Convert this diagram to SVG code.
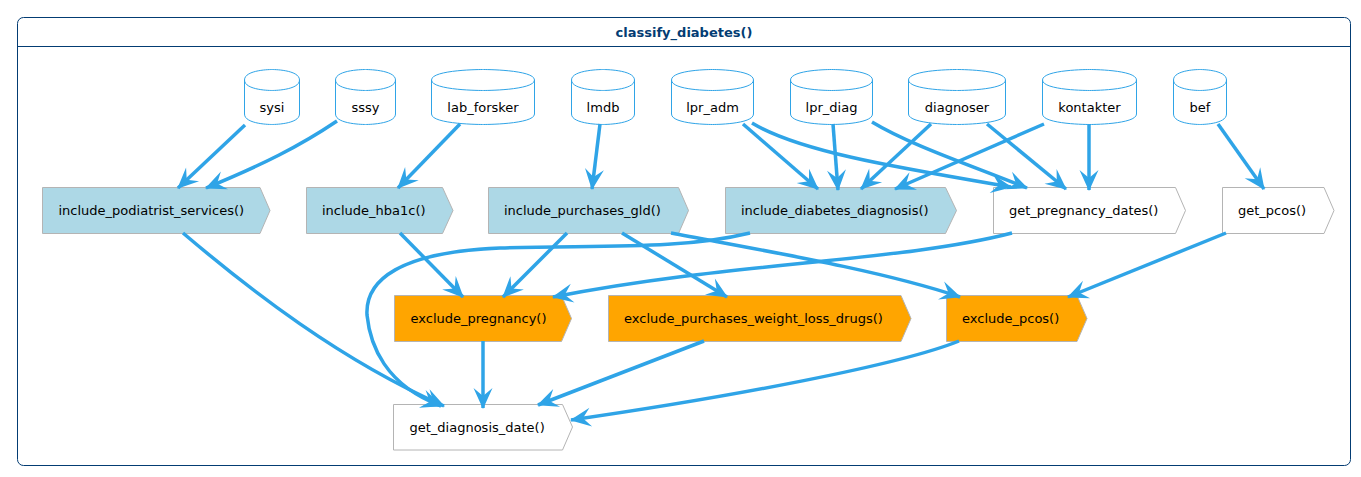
<svg xmlns="http://www.w3.org/2000/svg" width="1361" height="477" viewBox="0 0 1361 477">
<style>
text{font-family:"DejaVu Sans",sans-serif;font-size:13px;fill:#000}
.t{font-weight:bold;fill:#033C73;text-anchor:middle}
.c{text-anchor:middle}
.db{fill:none;stroke:#2FA4E7;stroke-width:1}
.p{stroke:#B4B4B4;stroke-width:1}
.b{fill:#ADD8E6}.o{fill:#FFA500}.w{fill:#fff}
#edges path{fill:none;stroke:#2FA4E7;stroke-width:3.5;marker-end:url(#a)}
</style>
<defs>
<marker id="a" markerUnits="userSpaceOnUse" markerWidth="24" markerHeight="24" refX="20" refY="12" orient="auto" overflow="visible"><path d="M21,12 L0,2.5 L8,12 L0,21.5 Z" fill="#2FA4E7"/></marker>
</defs>
<rect width="1361" height="477" fill="#fff"/>
<g id="frame">
<rect x="17.5" y="17.5" width="1333" height="448" rx="6" fill="none" stroke="#033C73" stroke-width="1"/>
<path d="M17.5,46.5H1350.5" stroke="#033C73" stroke-width="1"/>
<text class="t" x="684" y="36.5">classify_diabetes()</text>
</g>
<g id="sysi"><path class="db" d="M244.5,80C244.5,69.5 272,69.5 272,69.5C272,69.5 299.5,69.5 299.5,80V114C299.5,124.5 272,124.5 272,124.5C272,124.5 244.5,124.5 244.5,114ZM244.5,80C244.5,90.5 272,90.5 272,90.5C272,90.5 299.5,90.5 299.5,80"/><text class="c" x="272" y="112">sysi</text></g>
<g id="sssy"><path class="db" d="M335.5,80C335.5,69.5 365.5,69.5 365.5,69.5C365.5,69.5 395.5,69.5 395.5,80V114C395.5,124.5 365.5,124.5 365.5,124.5C365.5,124.5 335.5,124.5 335.5,114ZM335.5,80C335.5,90.5 365.5,90.5 365.5,90.5C365.5,90.5 395.5,90.5 395.5,80"/><text class="c" x="365.5" y="112">sssy</text></g>
<g id="lab_forsker"><path class="db" d="M431.5,80C431.5,69.5 483,69.5 483,69.5C483,69.5 534.5,69.5 534.5,80V114C534.5,124.5 483,124.5 483,124.5C483,124.5 431.5,124.5 431.5,114ZM431.5,80C431.5,90.5 483,90.5 483,90.5C483,90.5 534.5,90.5 534.5,80"/><text class="c" x="483" y="112">lab_forsker</text></g>
<g id="lmdb"><path class="db" d="M571.5,80C571.5,69.5 603,69.5 603,69.5C603,69.5 634.5,69.5 634.5,80V114C634.5,124.5 603,124.5 603,124.5C603,124.5 571.5,124.5 571.5,114ZM571.5,80C571.5,90.5 603,90.5 603,90.5C603,90.5 634.5,90.5 634.5,80"/><text class="c" x="603" y="112">lmdb</text></g>
<g id="lpr_adm"><path class="db" d="M671.5,80C671.5,69.5 712.5,69.5 712.5,69.5C712.5,69.5 753.5,69.5 753.5,80V114C753.5,124.5 712.5,124.5 712.5,124.5C712.5,124.5 671.5,124.5 671.5,114ZM671.5,80C671.5,90.5 712.5,90.5 712.5,90.5C712.5,90.5 753.5,90.5 753.5,80"/><text class="c" x="712.5" y="112">lpr_adm</text></g>
<g id="lpr_diag"><path class="db" d="M790.5,80C790.5,69.5 831.5,69.5 831.5,69.5C831.5,69.5 872.5,69.5 872.5,80V114C872.5,124.5 831.5,124.5 831.5,124.5C831.5,124.5 790.5,124.5 790.5,114ZM790.5,80C790.5,90.5 831.5,90.5 831.5,90.5C831.5,90.5 872.5,90.5 872.5,80"/><text class="c" x="831.5" y="112">lpr_diag</text></g>
<g id="diagnoser"><path class="db" d="M908.5,80C908.5,69.5 957,69.5 957,69.5C957,69.5 1005.5,69.5 1005.5,80V114C1005.5,124.5 957,124.5 957,124.5C957,124.5 908.5,124.5 908.5,114ZM908.5,80C908.5,90.5 957,90.5 957,90.5C957,90.5 1005.5,90.5 1005.5,80"/><text class="c" x="957" y="112">diagnoser</text></g>
<g id="kontakter"><path class="db" d="M1042.5,80C1042.5,69.5 1089.5,69.5 1089.5,69.5C1089.5,69.5 1136.5,69.5 1136.5,80V114C1136.5,124.5 1089.5,124.5 1089.5,124.5C1089.5,124.5 1042.5,124.5 1042.5,114ZM1042.5,80C1042.5,90.5 1089.5,90.5 1089.5,90.5C1089.5,90.5 1136.5,90.5 1136.5,80"/><text class="c" x="1089.5" y="112">kontakter</text></g>
<g id="bef"><path class="db" d="M1173.5,80C1173.5,69.5 1200,69.5 1200,69.5C1200,69.5 1226.5,69.5 1226.5,80V114C1226.5,124.5 1200,124.5 1200,124.5C1200,124.5 1173.5,124.5 1173.5,114ZM1173.5,80C1173.5,90.5 1200,90.5 1200,90.5C1200,90.5 1226.5,90.5 1226.5,80"/><text class="c" x="1200" y="112">bef</text></g>
<g id="include_podiatrist_services"><polygon class="p b" points="42.5,187.5 260,187.5 270,210.5 260,233.5 42.5,233.5"/><text x="58.5" y="215">include_podiatrist_services()</text></g>
<g id="include_hba1c"><polygon class="p b" points="306.5,187.5 442.5,187.5 453,210.5 442.5,233.5 306.5,233.5"/><text x="322" y="215">include_hba1c()</text></g>
<g id="include_purchases_gld"><polygon class="p b" points="488.5,187.5 678.5,187.5 688.5,210.5 678.5,233.5 488.5,233.5"/><text x="504" y="215">include_purchases_gld()</text></g>
<g id="include_diabetes_diagnosis"><polygon class="p b" points="725.5,187.5 945.5,187.5 956.5,210.5 945.5,233.5 725.5,233.5"/><text x="741" y="215">include_diabetes_diagnosis()</text></g>
<g id="get_pregnancy_dates"><polygon class="p w" points="993.5,187.5 1175.5,187.5 1185.5,210.5 1175.5,233.5 993.5,233.5"/><text x="1009" y="215">get_pregnancy_dates()</text></g>
<g id="get_pcos"><polygon class="p w" points="1222.5,187.5 1324,187.5 1334,210.5 1324,233.5 1222.5,233.5"/><text x="1238" y="215">get_pcos()</text></g>
<g id="exclude_pregnancy"><polygon class="p o" points="394.5,295.5 561.5,295.5 571.5,318.5 561.5,341.5 394.5,341.5"/><text x="410.5" y="323">exclude_pregnancy()</text></g>
<g id="exclude_purchases_weight_loss_drugs"><polygon class="p o" points="608.5,295.5 901,295.5 911,318.5 901,341.5 608.5,341.5"/><text x="624" y="323">exclude_purchases_weight_loss_drugs()</text></g>
<g id="exclude_pcos"><polygon class="p o" points="946.5,295.5 1077,295.5 1087,318.5 1077,341.5 946.5,341.5"/><text x="962" y="323">exclude_pcos()</text></g>
<g id="get_diagnosis_date"><polygon class="p w" points="393.5,404.5 562.5,404.5 572.5,427 562.5,450 393.5,450"/><text x="409.5" y="432">get_diagnosis_date()</text></g>
<g id="edges">
<path d="M245,125L178,188"/>
<path d="M337,121C300,146 262,165 206,188"/>
<path d="M460,124L398,188"/>
<path d="M600,124L592,189"/>
<path d="M743,124L818,189"/>
<path d="M752,123C800,152 900,168 1011,187"/>
<path d="M833,124L838,190"/>
<path d="M872,122C910,145 970,165 1027,188"/>
<path d="M931,124L861,189"/>
<path d="M987,124L1066,189"/>
<path d="M1044,124L895,189"/>
<path d="M1089,124L1089,190"/>
<path d="M1218,124L1264,189"/>
<path d="M183,233C250,290 340,360 444,406"/>
<path d="M400,233L463,297"/>
<path d="M567,233L503,297"/>
<path d="M622,233L727,297"/>
<path d="M671,233C760,250 880,270 960,297"/>
<path d="M750,233C680,250 600,245 500,248C400,252 365,280 367,315C370,345 385,385 441,406"/>
<path d="M1012,233C900,262 730,262 553,297"/>
<path d="M1226,233L1068,297"/>
<path d="M483,341L483,408"/>
<path d="M704,341L538,405"/>
<path d="M959,341C900,365 730,397 571,420"/>
</g>
</svg>
